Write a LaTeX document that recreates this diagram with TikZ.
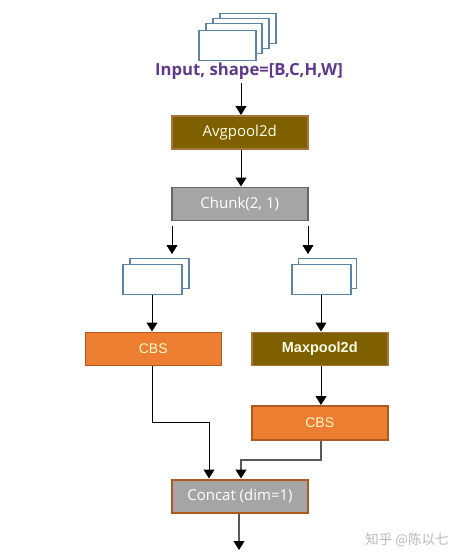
\documentclass[tikz,border=0pt]{standalone}
\usepackage{fontspec}
\setmainfont{Open Sans}
\newfontfamily\cjk{Noto Sans CJK SC}
\newfontfamily\arialish{Liberation Sans}
\usetikzlibrary{arrows.meta}
\definecolor{stackblue}{HTML}{5B84A6}
\definecolor{brownfill}{HTML}{7F6000}
\definecolor{brownedge}{HTML}{A8743A}
\definecolor{orangefill}{HTML}{ED7D31}
\definecolor{grayfill}{HTML}{A5A5A5}
\definecolor{boxedge}{HTML}{AE5A21}
\definecolor{purpletext}{HTML}{5F3A8C}
\tikzset{
 x=1pt,y=-1pt,
 sheet/.style={draw=stackblue,fill=white,line width=1.5pt,minimum width=#1,minimum height=30pt,inner sep=0pt,anchor=north west},
 block/.style={draw=boxedge,line width=1.5pt,minimum width=136pt,minimum height=33pt,inner sep=0pt,anchor=north west,font=\fontsize{15}{17}\selectfont},
 brownblock/.style={block,draw=brownedge,fill=brownfill,text=white!90!yellow},
 orangeblock/.style={block,fill=orangefill,text=white!80!yellow,font=\arialish\fontsize{14}{16}\selectfont},
 grayblock/.style={block,fill=grayfill,text=white},
 arrow/.style={draw=black,line width=1pt,-{Triangle[length=9pt,width=11pt]}},
 greyarrow/.style={draw=black!65,line width=1.1pt,-{Triangle[length=9pt,width=11pt,color=black]}}
}
\begin{document}
\begin{tikzpicture}
\useasboundingbox (0,0) rectangle (461,560);
% input stack
\node[sheet=56pt] (i4) at (219,12.5) {};
\node[sheet=56pt] (i3) at (212,17.5) {};
\node[sheet=56pt] (i2) at (205,22.5) {};
\node[sheet=57pt] (i1) at (198,29.5) {};
\node[text=purpletext,font=\fontsize{16.7}{19}\selectfont\bfseries] (inp) at (249,71) {Input, shape=[B,C,H,W]};
% blocks
\node[brownblock] (avg) at (171,115) {Avgpool2d};
\node[grayblock,draw=black!60] (chunk) at (171,186.5) {Chunk(2, 1)};
% left stack
\node[sheet=59pt] (l2) at (129,257.5) {};
\node[sheet=59pt] (l1) at (122,263.5) {};
% right stack
\node[sheet=58pt] (r2) at (297.5,257.5) {};
\node[sheet=59pt] (r1) at (291,263.5) {};
\node[orangeblock] (cbsl) at (84.5,331.5) {CBS};
\node[brownblock,font=\arialish\bfseries\fontsize{14.5}{16}\selectfont] (maxp) at (251,331.5) {Maxpool2d};
\node[orangeblock,minimum height=34pt] (cbsr) at (251,405) {CBS};
\node[grayblock,line width=2pt] (concat) at (171,478.5) {Concat (dim=1)};
% free ends
\coordinate (il) at (241,83);
\coordinate (cl1) at (172,226);
\coordinate (cl2) at (172,254);
\coordinate (cr1) at (308,226);
\coordinate (cr2) at (308,254);
\coordinate (out) at (239,550);
% connectors
\draw[arrow] (il) -- (il|-avg.north);
\draw[arrow] (il|-avg.south) -- (il|-chunk.north);
\draw[arrow] (cl1) -- (cl2);
\draw[arrow] (cr1) -- (cr2);
\draw[arrow] (152,0|-l1.south) -- (152,0|-cbsl.north);
\draw[arrow] (321,0|-r1.south) -- (321,0|-maxp.north);
\draw[arrow] (321,0|-maxp.south) -- (321,0|-cbsr.north);
\draw[arrow] (152,0|-cbsl.south) -- (152,422) -- (209,422) -- (209,0|-concat.north);
\draw[greyarrow] (321,0|-cbsr.south) -- (321,460) -- (241,460) -- (241,0|-concat.north);
\draw[greyarrow] (239,0|-concat.south) -- (out);
\node[text=black!28,font=\cjk\fontsize{13.5}{15}\selectfont] (wm) at (407,540) {知乎 @陈以七};
\end{tikzpicture}
\end{document}
